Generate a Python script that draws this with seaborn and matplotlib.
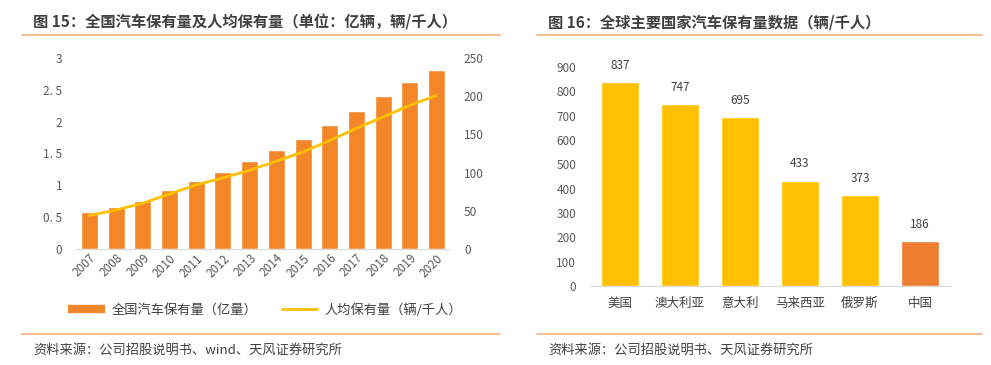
import numpy as np
import pandas as pd
import matplotlib
matplotlib.use('Agg')
import matplotlib.pyplot as plt
from matplotlib.lines import Line2D
import seaborn as sns

# data
years = [str(y) for y in range(2007, 2021)]
total_cars = [0.58, 0.66, 0.76, 0.92, 1.07, 1.21, 1.38, 1.55, 1.72, 1.94, 2.17, 2.40, 2.62, 2.81]
per_capita = [44, 51, 60, 72, 84, 93, 103, 115, 127, 142, 158, 173, 188, 201]
countries = ['美国', '澳大利亚', '意大利', '马来西亚', '俄罗斯', '中国']
country_vals = [837, 747, 695, 433, 373, 186]
left_ticks = [0, 0.5, 1, 1.5, 2, 2.5, 3]
left_ticklabels = ['0', '0. 5', '1', '1. 5', '2', '2. 5', '3']

sns.set_style('white')
plt.rcParams['font.family'] = ['Noto Sans CJK SC', 'DejaVu Sans']

W, H = 991, 365
fig = plt.figure(figsize=(W / 100, H / 100), dpi=100)

def fx(px):
    return px / W

def fy(py):
    return 1 - py / H

grey = '#595959'
dark = '#404040'
orange = '#F4862A'
yellow = '#FFC000'
rule = '#F8B07A'

# ---- left chart
ax1 = fig.add_axes([fx(76), fy(249), fx(450) - fx(76), fy(58) - fy(249)])
df1 = pd.DataFrame({'year': years, 'total': total_cars, 'per': per_capita})
sns.barplot(data=df1, x='year', y='total', color=orange, saturation=1, width=0.64, ax=ax1)
ax1.set_ylim(0, 3)
ax1.set_xlim(-0.5, len(years) - 0.5)
ax1.set_yticks(left_ticks)
ax1.set_yticklabels(left_ticklabels)
ax1.set_xlabel('')
ax1.set_ylabel('')
ax1.tick_params(axis='y', length=0, pad=10, labelsize=8.5, labelcolor=grey)
ax1.tick_params(axis='x', length=0, pad=2, labelsize=8.5, labelcolor=grey)
plt.setp(ax1.get_xticklabels(), rotation=45, ha='right', rotation_mode='anchor')
for s in ['top', 'left', 'right']:
    ax1.spines[s].set_visible(False)
ax1.spines['bottom'].set_color('#d9d9d9')

ax2 = ax1.twinx()
sns.lineplot(x=np.arange(len(years)), y=per_capita, color=yellow, linewidth=2, ax=ax2)
ax2.set_ylim(0, 250)
ax2.set_yticks([0, 50, 100, 150, 200, 250])
ax2.tick_params(axis='y', length=0, pad=10, labelsize=8.5, labelcolor=grey)
for s in ['top', 'left', 'right', 'bottom']:
    ax2.spines[s].set_visible(False)

handles = [Line2D([0], [0], color=orange, linewidth=6, solid_capstyle='butt'),
           Line2D([0], [0], color=yellow, linewidth=2, solid_capstyle='butt')]
fig.legend(handles, ['全国汽车保有量（亿量）', '人均保有量（辆/千人）'],
           loc='center', bbox_to_anchor=(fx(265), fy(310)), ncol=2, frameon=False,
           handlelength=2.8, columnspacing=1.8, handletextpad=0.5,
           prop={'size': 9.5}, labelcolor=dark)

# ---- right chart
ax3 = fig.add_axes([fx(590), fy(286), fx(950) - fx(590), fy(67) - fy(286)])
df2 = pd.DataFrame({'country': countries, 'val': country_vals})
palette = [yellow] * (len(countries) - 1) + ['#ED7D31']
sns.barplot(data=df2, x='country', y='val', hue='country', palette=palette,
            saturation=1, width=0.62, legend=False, ax=ax3)
ax3.set_ylim(0, 900)
ax3.set_xlim(-0.5, len(countries) - 0.5)
ax3.set_yticks(range(0, 1000, 100))
ax3.set_xlabel('')
ax3.set_ylabel('')
ax3.tick_params(axis='y', length=0, pad=10, labelsize=8.5, labelcolor=grey)
ax3.tick_params(axis='x', length=0, pad=8, labelsize=9, labelcolor=dark)
for s in ['top', 'left', 'right']:
    ax3.spines[s].set_visible(False)
ax3.spines['bottom'].set_color('#d9d9d9')
for i, v in enumerate(country_vals):
    ax3.annotate(str(v), (i, v), xytext=(0, 12), textcoords='offset points',
                 ha='center', va='center', fontsize=8.5, color=dark, annotation_clip=False)

# ---- titles, rules, sources
fig.text(fx(33), fy(22), '图 15：全国汽车保有量及人均保有量（单位：亿辆，辆/千人）',
         fontsize=11, fontweight='bold', color=dark, va='center')
fig.text(fx(548), fy(22), '图 16：全球主要国家汽车保有量数据（辆/千人）',
         fontsize=11, fontweight='bold', color=dark, va='center')
for x0, x1 in [(22, 500), (537, 982)]:
    for yy in [35, 334]:
        fig.add_artist(Line2D([fx(x0), fx(x1)], [fy(yy), fy(yy)], color=rule, linewidth=1.2))
fig.text(fx(33), fy(350), '资料来源：公司招股说明书、wind、天风证券研究所',
         fontsize=9.5, color=dark, va='center')
fig.text(fx(548), fy(350), '资料来源：公司招股说明书、天风证券研究所',
         fontsize=9.5, color=dark, va='center')

fig.savefig('out.png', dpi=100, facecolor='white')
